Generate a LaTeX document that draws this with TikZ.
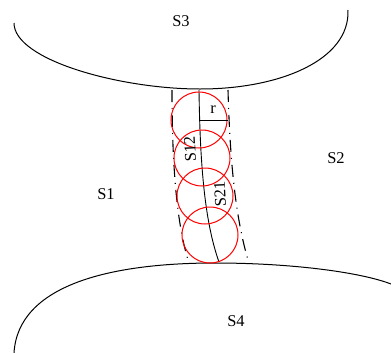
\documentclass[tikz,border=0pt]{standalone}
\usepackage{fontspec}
\setmainfont{Liberation Serif}
\usepackage{tikz}
\definecolor{myred}{RGB}{255,0,0}

\begin{document}
\begin{tikzpicture}[x=1bp, y=-1bp,
    lbl/.style={font=\fontsize{16.5}{20}\selectfont, inner sep=0pt},
    ball/.style={myred, line width=1bp},
    wall/.style={black, line width=1bp},
    tube/.style={black, line width=1.1bp, dash pattern=on 12bp off 6bp on 1bp off 6bp}]
        \def\R{28bp}
        \useasboundingbox (0,0) rectangle (391,353);

        % -- upper surface S3 --
        \draw[wall] (14,23) .. controls (14,60) and (120,89) .. (200,89)
            .. controls (280,89) and (350,60) .. (348,10);
        % -- lower surface S4 --
        \draw[wall] (14,353) .. controls (18,285) and (110,263) .. (215,263)
            .. controls (290,263) and (360,272) .. (391,284);

        % -- tube border, dash dotted --
        \draw[tube] (172,90) .. controls (172,160) and (176,220) .. (188,260);
        \draw[tube] (228,90) .. controls (230,160) and (235,215) .. (248,260);

        % -- centre line of the tube --
        \draw[wall, line width=0.9bp] (199,90) .. controls (200,160) and (204,220) .. (219,262);

        % -- rolling circles --
        \foreach \cx/\cy in {199/120, 202/158, 205/196, 210/235}
            \draw[ball] (\cx,\cy) circle[radius=\R];

        % -- radius r --
        \coordinate (rc) at (200,120);
        \coordinate (re) at (228,120);
        \draw[black, line width=0.8bp] (rc) -- (re);
        \node[lbl] (r) at (213,110) {r};

        % -- labels --
        \node[lbl] (s1) at (106,194) {S1};
        \node[lbl] (s2) at (336,158) {S2};
        \node[lbl] (s3) at (181,21) {S3};
        \node[lbl] (s4) at (236,321) {S4};
        \node[lbl, rotate=93] (s12) at (190,149) {S12};
        \node[lbl, rotate=93] (s21) at (220,194) {S21};
    \end{tikzpicture}
\end{document}
